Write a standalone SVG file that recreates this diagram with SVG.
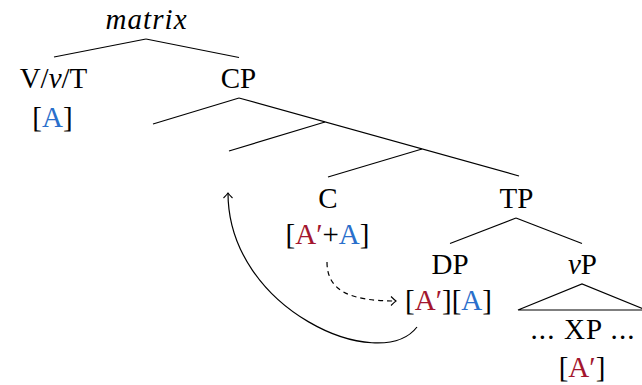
<svg xmlns="http://www.w3.org/2000/svg" width="642" height="385" viewBox="0 0 642 385" font-family="'Liberation Serif', 'DejaVu Serif', serif" font-size="29">
<style>
text{font-family:'Liberation Serif','DejaVu Serif',serif;font-size:29px;fill:#000;text-anchor:middle}
.it{font-style:italic}
.r{fill:#a3162e}
.b{fill:#2a6fcb}
line,path{stroke:#000;stroke-width:1.2;fill:none}
</style>
<defs>
<marker id="ah" markerUnits="userSpaceOnUse" markerWidth="12" markerHeight="12" refX="0" refY="0" viewBox="-8 -6 10 12" orient="auto">
<path d="M-5,-4.5 Q-1.5,-1 0,0 Q-1.5,1 -5,4.5" style="stroke:#000;stroke-width:1.1;fill:none"/>
</marker>
</defs>
<g id="edges">
<line x1="146" y1="39" x2="54" y2="57"/>
<line x1="146" y1="39" x2="239" y2="57.5"/>
<line x1="239" y1="98" x2="153" y2="124"/>
<line x1="239" y1="98" x2="519" y2="176"/>
<line x1="325" y1="122" x2="229" y2="151"/>
<line x1="422" y1="149" x2="328" y2="177"/>
<line x1="516" y1="218" x2="450" y2="243.5"/>
<line x1="516" y1="218" x2="582" y2="243.5"/>
<path d="M518,310 L582,284 L646,310 Z"/>
<path d="M417,327 C380,375 228,310 228,193" marker-end="url(#ah)"/>
<path d="M327,262 C327,292 352,301 396,301" stroke-dasharray="5,4" marker-end="url(#ah)"/>
</g>
<g id="matrix"><text x="146" y="29" class="it" textLength="81" lengthAdjust="spacing">matrix</text></g>
<g id="vvt"><text x="53.5" y="88">V/<tspan class="it">v</tspan>/T</text><text x="52.5" y="127">[<tspan class="b">A</tspan>]</text></g>
<g id="cp"><text x="238.5" y="88">CP</text></g>
<g id="c"><text x="328" y="208">C</text><text x="327.5" y="244">[<tspan class="r">A′</tspan>+<tspan class="b">A</tspan>]</text></g>
<g id="tp"><text x="516.5" y="208">TP</text></g>
<g id="dp"><text x="450" y="274">DP</text><text x="448.5" y="310">[<tspan class="r">A′</tspan>][<tspan class="b">A</tspan>]</text></g>
<g id="vp"><text x="582.5" y="274"><tspan class="it">v</tspan>P</text></g>
<g id="xp"><text x="582.5" y="339" textLength="104" lengthAdjust="spacing">... XP ...</text><text x="582" y="377">[<tspan class="r">A′</tspan>]</text></g>
</svg>
